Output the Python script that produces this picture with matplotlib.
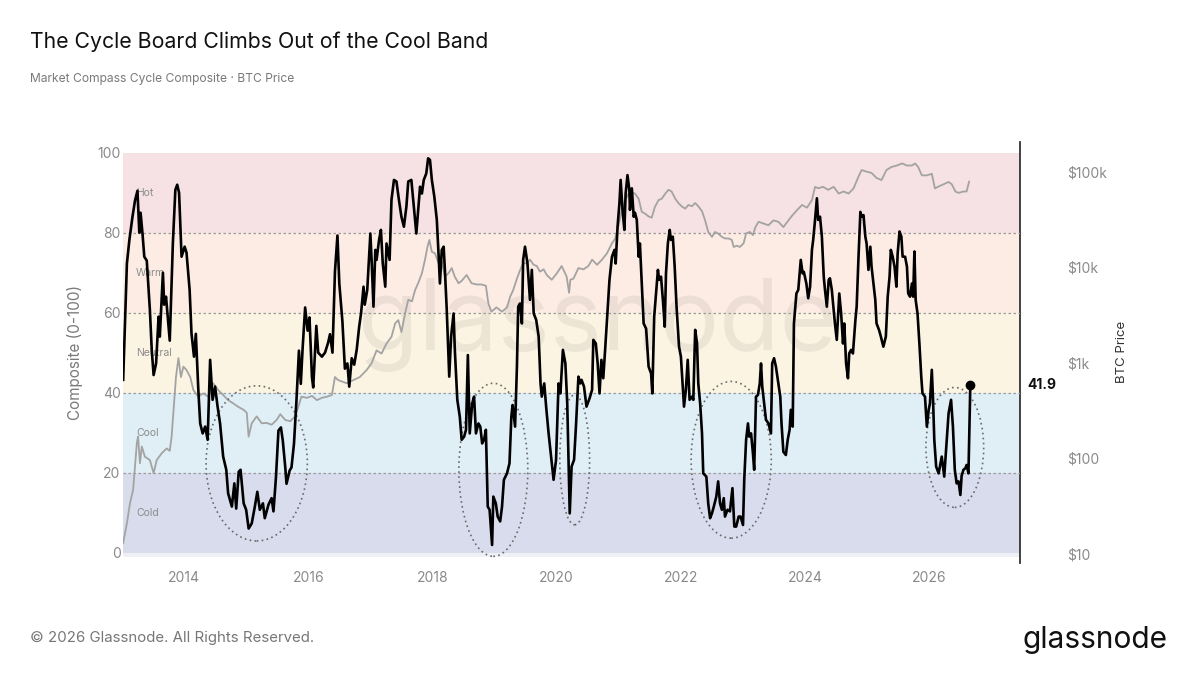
import matplotlib
matplotlib.use("Agg")
import matplotlib.pyplot as plt
from matplotlib.patches import Ellipse, Rectangle
from matplotlib.transforms import blended_transform_factory
import numpy as np

plt.rcParams['font.family'] = ['Inter', 'DejaVu Sans']

# composite score (0-100), x in decimal years
comp_t = [
    2013.02, 2013.08, 2013.12, 2013.17, 2013.21, 2013.25, 2013.28, 2013.30, 2013.33, 2013.36,
    2013.40, 2013.45, 2013.48, 2013.51, 2013.55, 2013.59, 2013.61, 2013.66, 2013.68, 2013.71,
    2013.75, 2013.77, 2013.82, 2013.86, 2013.89, 2013.92, 2013.96, 2014.01, 2014.04, 2014.09,
    2014.12, 2014.16, 2014.19, 2014.23, 2014.26, 2014.30, 2014.34, 2014.38, 2014.42, 2014.46,
    2014.50, 2014.54, 2014.58, 2014.63, 2014.68, 2014.71, 2014.77, 2014.81, 2014.84, 2014.88,
    2014.91, 2014.96, 2015.00, 2015.04, 2015.09, 2015.14, 2015.18, 2015.22, 2015.27, 2015.30,
    2015.36, 2015.41, 2015.44, 2015.48, 2015.52, 2015.56, 2015.59, 2015.63, 2015.65, 2015.70,
    2015.73, 2015.77, 2015.81, 2015.85, 2015.88, 2015.91, 2015.95, 2015.99, 2016.02, 2016.06,
    2016.08, 2016.13, 2016.16, 2016.22, 2016.27, 2016.32, 2016.35, 2016.39, 2016.43, 2016.47,
    2016.50, 2016.55, 2016.59, 2016.63, 2016.66, 2016.70, 2016.74, 2016.78, 2016.82, 2016.85,
    2016.89, 2016.91, 2016.95, 2017.00, 2017.02, 2017.05, 2017.08, 2017.10, 2017.14, 2017.17,
    2017.20, 2017.24, 2017.26, 2017.31, 2017.34, 2017.38, 2017.42, 2017.46, 2017.50, 2017.54,
    2017.58, 2017.61, 2017.66, 2017.69, 2017.74, 2017.77, 2017.80, 2017.83, 2017.86, 2017.90,
    2017.93, 2017.96, 2017.99, 2018.03, 2018.07, 2018.10, 2018.12, 2018.15, 2018.18, 2018.20,
    2018.23, 2018.27, 2018.30, 2018.34, 2018.36, 2018.40, 2018.44, 2018.47, 2018.51, 2018.54,
    2018.57, 2018.60, 2018.64, 2018.67, 2018.70, 2018.74, 2018.77, 2018.80, 2018.83, 2018.86,
    2018.89, 2018.92, 2018.96, 2018.98, 2019.02, 2019.05, 2019.09, 2019.12, 2019.15, 2019.20,
    2019.24, 2019.27, 2019.29, 2019.33, 2019.36, 2019.38, 2019.41, 2019.44, 2019.46, 2019.49,
    2019.53, 2019.57, 2019.60, 2019.63, 2019.67, 2019.71, 2019.74, 2019.76, 2019.80, 2019.83,
    2019.87, 2019.91, 2019.95, 2019.99, 2020.03, 2020.06, 2020.10, 2020.14, 2020.17, 2020.21,
    2020.24, 2020.28, 2020.31, 2020.35, 2020.38, 2020.40, 2020.44, 2020.48, 2020.53, 2020.57,
    2020.59, 2020.63, 2020.66, 2020.69, 2020.72, 2020.75, 2020.78, 2020.82, 2020.85, 2020.89,
    2020.93, 2020.95, 2020.98, 2021.01, 2021.03, 2021.06, 2021.09, 2021.11, 2021.14, 2021.17,
    2021.18, 2021.21, 2021.24, 2021.26, 2021.29, 2021.32, 2021.34, 2021.37, 2021.40, 2021.44,
    2021.48, 2021.52, 2021.54, 2021.57, 2021.60, 2021.63, 2021.65, 2021.68, 2021.71, 2021.74,
    2021.76, 2021.79, 2021.82, 2021.84, 2021.87, 2021.90, 2021.93, 2021.97, 2022.00, 2022.03,
    2022.05, 2022.08, 2022.11, 2022.14, 2022.18, 2022.20, 2022.23, 2022.26, 2022.28, 2022.31,
    2022.34, 2022.36, 2022.41, 2022.44, 2022.47, 2022.50, 2022.53, 2022.57, 2022.60, 2022.63,
    2022.66, 2022.69, 2022.71, 2022.75, 2022.79, 2022.83, 2022.86, 2022.89, 2022.93, 2022.96,
    2023.00, 2023.02, 2023.05, 2023.08, 2023.10, 2023.13, 2023.16, 2023.18, 2023.21, 2023.24,
    2023.27, 2023.29, 2023.31, 2023.34, 2023.37, 2023.41, 2023.45, 2023.47, 2023.50, 2023.53,
    2023.57, 2023.60, 2023.62, 2023.65, 2023.69, 2023.72, 2023.75, 2023.77, 2023.80, 2023.82,
    2023.86, 2023.89, 2023.93, 2023.96, 2023.98, 2024.02, 2024.05, 2024.08, 2024.11, 2024.13,
    2024.16, 2024.19, 2024.21, 2024.24, 2024.27, 2024.30, 2024.32, 2024.35, 2024.38, 2024.40,
    2024.43, 2024.46, 2024.48, 2024.51, 2024.55, 2024.58, 2024.61, 2024.63, 2024.66, 2024.69,
    2024.71, 2024.74, 2024.77, 2024.81, 2024.83, 2024.86, 2024.89, 2024.91, 2024.94, 2024.97,
    2024.99, 2025.02, 2025.05, 2025.07, 2025.10, 2025.13, 2025.15, 2025.19, 2025.22, 2025.26,
    2025.30, 2025.33, 2025.36, 2025.38, 2025.41, 2025.44, 2025.47, 2025.49, 2025.52, 2025.55,
    2025.57, 2025.61, 2025.64, 2025.66, 2025.69, 2025.72, 2025.74, 2025.76, 2025.78, 2025.81,
    2025.84, 2025.87, 2025.89, 2025.93, 2025.96, 2025.99, 2026.01, 2026.04, 2026.06, 2026.08,
    2026.11, 2026.15, 2026.17, 2026.20, 2026.24, 2026.27, 2026.31, 2026.35, 2026.38, 2026.41,
    2026.44, 2026.47, 2026.50, 2026.52, 2026.55, 2026.58, 2026.60, 2026.63, 2026.66,
]
comp_v = [
    43.2, 72.3, 78.2, 84.0, 88.0, 90.5, 80.0, 85.0, 80.0, 74.0,
    73.0, 60.7, 50.7, 44.4, 47.3, 59.0, 54.0, 70.0, 62.0, 64.0,
    56.5, 53.0, 77.3, 90.7, 92.0, 90.0, 74.0, 76.5, 75.0, 65.7,
    54.8, 49.0, 54.7, 40.7, 32.3, 29.8, 31.5, 28.2, 48.2, 38.2,
    41.5, 36.5, 32.3, 24.0, 20.7, 14.8, 11.5, 17.3, 11.0, 20.2,
    20.7, 12.3, 10.7, 6.0, 7.3, 11.5, 15.2, 10.7, 12.3, 8.6,
    12.0, 13.6, 10.3, 18.8, 30.5, 31.3, 28.0, 21.3, 17.2, 20.5,
    21.3, 27.2, 38.0, 50.5, 42.2, 51.3, 61.3, 55.5, 58.8, 43.8,
    41.3, 56.7, 50.0, 49.0, 50.0, 52.5, 54.6, 50.0, 70.3, 79.3,
    67.3, 57.8, 46.0, 47.3, 41.5, 48.6, 47.0, 50.7, 56.5, 59.8,
    66.5, 62.0, 65.7, 79.8, 73.2, 61.5, 75.7, 73.2, 78.2, 80.7,
    72.3, 66.5, 77.3, 73.2, 88.2, 93.2, 92.8, 88.2, 84.0, 81.5,
    86.5, 92.8, 93.2, 88.2, 79.8, 85.7, 91.5, 89.8, 93.2, 94.8,
    98.6, 98.2, 93.2, 89.0, 83.2, 74.0, 67.3, 75.7, 76.5, 70.7,
    60.7, 44.0, 54.0, 59.8, 50.7, 38.2, 34.0, 28.2, 29.0, 30.7,
    49.4, 29.8, 37.3, 39.0, 29.8, 32.3, 31.5, 27.3, 28.2, 30.7,
    11.5, 10.7, 1.9, 14.0, 12.3, 9.0, 7.8, 11.5, 18.2, 19.8,
    22.3, 34.0, 36.9, 31.5, 46.5, 61.5, 62.3, 57.3, 73.2, 76.5,
    72.3, 63.2, 70.7, 59.8, 58.2, 54.0, 42.3, 39.0, 42.3, 36.5,
    29.8, 24.0, 18.2, 23.2, 42.3, 39.8, 50.7, 47.3, 37.3, 9.8,
    21.5, 23.2, 31.5, 44.0, 42.3, 43.2, 41.5, 36.5, 38.6, 40.7,
    53.2, 52.3, 47.3, 39.8, 48.2, 43.6, 50.7, 60.7, 68.2, 74.0,
    75.7, 72.3, 81.5, 87.3, 93.2, 85.7, 80.7, 89.8, 94.4, 90.7,
    85.7, 91.1, 84.0, 85.0, 83.2, 74.0, 77.3, 67.3, 57.3, 56.0,
    46.5, 44.8, 39.8, 59.0, 64.8, 70.7, 68.2, 69.0, 63.2, 56.5,
    69.8, 77.3, 80.7, 78.2, 79.0, 71.5, 61.5, 51.5, 49.0, 41.5,
    36.5, 40.7, 48.2, 38.2, 39.0, 38.2, 55.7, 52.3, 42.3, 37.3,
    29.8, 19.8, 19.0, 12.3, 8.6, 9.8, 11.5, 14.0, 17.8, 12.3,
    10.7, 13.6, 9.0, 10.7, 10.3, 16.1, 6.5, 6.5, 9.0, 9.0,
    6.9, 18.2, 28.2, 32.3, 29.0, 29.8, 24.8, 20.7, 39.0, 39.4,
    42.3, 47.3, 41.5, 37.3, 33.2, 32.3, 29.8, 47.3, 48.6, 46.5,
    42.3, 39.0, 32.3, 25.2, 24.4, 28.2, 30.7, 35.7, 31.5, 57.3,
    64.8, 65.7, 73.2, 69.8, 70.2, 67.3, 63.6, 66.5, 75.7, 78.2,
    83.2, 88.6, 83.2, 84.0, 79.0, 69.0, 65.7, 61.5, 68.2, 68.6,
    65.7, 60.7, 57.3, 53.2, 64.8, 59.8, 52.3, 57.3, 47.3, 43.6,
    49.8, 50.7, 49.8, 58.2, 61.5, 74.0, 85.2, 84.0, 84.4, 79.0,
    77.3, 70.7, 76.5, 71.5, 67.3, 63.2, 57.3, 55.7, 54.0, 51.5,
    54.0, 64.0, 69.0, 75.7, 74.0, 71.5, 66.5, 74.8, 80.3, 79.0,
    74.0, 74.0, 71.5, 64.8, 64.0, 67.3, 64.0, 75.3, 63.2, 59.8,
    52.3, 44.0, 39.8, 39.0, 31.5, 35.7, 37.3, 45.7, 38.2, 28.2,
    21.5, 19.8, 21.5, 24.0, 19.0, 25.7, 34.8, 38.2, 31.5, 20.7,
    17.3, 17.8, 14.4, 19.2, 20.7, 21.1, 21.9, 19.8, 41.9,
]

# BTC price (USD, log axis)
price_t = [
    2013.02, 2013.08, 2013.13, 2013.18, 2013.24, 2013.26, 2013.29, 2013.32, 2013.37, 2013.45,
    2013.51, 2013.56, 2013.64, 2013.72, 2013.77, 2013.80, 2013.84, 2013.87, 2013.91, 2013.95,
    2013.99, 2014.04, 2014.10, 2014.15, 2014.23, 2014.31, 2014.39, 2014.47, 2014.55, 2014.63,
    2014.71, 2014.79, 2014.87, 2014.96, 2015.01, 2015.04, 2015.09, 2015.17, 2015.25, 2015.33,
    2015.41, 2015.49, 2015.55, 2015.63, 2015.71, 2015.79, 2015.84, 2015.89, 2015.98, 2016.06,
    2016.14, 2016.22, 2016.30, 2016.38, 2016.43, 2016.48, 2016.62, 2016.73, 2016.83, 2016.94,
    2017.02, 2017.10, 2017.18, 2017.26, 2017.34, 2017.40, 2017.45, 2017.50, 2017.56, 2017.61,
    2017.67, 2017.72, 2017.77, 2017.83, 2017.88, 2017.92, 2017.95, 2017.99, 2018.04, 2018.10,
    2018.15, 2018.20, 2018.26, 2018.31, 2018.36, 2018.42, 2018.47, 2018.55, 2018.63, 2018.71,
    2018.79, 2018.86, 2018.90, 2018.95, 2019.03, 2019.12, 2019.20, 2019.25, 2019.30, 2019.36,
    2019.41, 2019.46, 2019.52, 2019.57, 2019.63, 2019.68, 2019.73, 2019.79, 2019.84, 2019.92,
    2020.00, 2020.08, 2020.16, 2020.20, 2020.22, 2020.27, 2020.35, 2020.43, 2020.51, 2020.57,
    2020.65, 2020.73, 2020.81, 2020.89, 2020.94, 2020.99, 2021.05, 2021.10, 2021.16, 2021.21,
    2021.26, 2021.32, 2021.37, 2021.42, 2021.48, 2021.53, 2021.58, 2021.64, 2021.69, 2021.75,
    2021.80, 2021.85, 2021.91, 2021.96, 2022.01, 2022.07, 2022.12, 2022.18, 2022.23, 2022.28,
    2022.34, 2022.39, 2022.44, 2022.50, 2022.55, 2022.60, 2022.66, 2022.71, 2022.77, 2022.82,
    2022.85, 2022.90, 2022.95, 2023.01, 2023.05, 2023.11, 2023.16, 2023.20, 2023.25, 2023.33,
    2023.41, 2023.49, 2023.57, 2023.65, 2023.78, 2023.87, 2023.95, 2024.03, 2024.11, 2024.16,
    2024.21, 2024.29, 2024.37, 2024.46, 2024.54, 2024.62, 2024.70, 2024.78, 2024.86, 2024.91,
    2024.99, 2025.07, 2025.15, 2025.23, 2025.31, 2025.39, 2025.48, 2025.56, 2025.64, 2025.72,
    2025.77, 2025.82, 2025.88, 2025.96, 2026.04, 2026.09, 2026.15, 2026.23, 2026.31, 2026.36,
    2026.42, 2026.47, 2026.55, 2026.60, 2026.64,
]
price_v = [
    13, 21, 34, 47, 144, 169, 89, 133, 104, 96,
    70, 96, 113, 127, 120, 169, 377, 710, 1120, 710,
    912, 840, 710, 519, 442, 480, 442, 611, 519, 460,
    407, 377, 347, 322, 300, 169, 233, 275, 233, 235,
    225, 252, 290, 252, 245, 275, 347, 442, 430, 450,
    407, 430, 442, 460, 710, 660, 611, 660, 710, 840,
    990, 1350, 1250, 1590, 1870, 2590, 2800, 2100, 3300, 4560,
    4400, 5770, 6800, 8650, 12000, 16400, 19300, 14500, 14000, 11000,
    11500, 7950, 8700, 9800, 7950, 6800, 7200, 8300, 6800, 6600,
    6600, 6400, 4170, 3430, 3800, 3430, 3800, 4900, 5770, 7600,
    9300, 11000, 11000, 12000, 10600, 10300, 9000, 9500, 8300, 7400,
    8600, 10300, 8000, 5400, 7400, 7600, 9800, 9500, 10300, 12000,
    10600, 12000, 14000, 17800, 19800, 26300, 39600, 50400, 59000, 61000,
    59000, 52000, 38000, 36500, 34000, 33000, 42600, 50400, 52000, 59000,
    64600, 62000, 52000, 47000, 43500, 41000, 44800, 43500, 47000, 43500,
    38500, 30900, 23400, 20800, 23400, 22500, 20800, 20000, 20000, 19300,
    16300, 16800, 16300, 17800, 22600, 23400, 21700, 26300, 29900, 28700,
    27500, 30900, 29900, 26300, 34000, 39600, 44800, 42000, 50400, 69400,
    67000, 69400, 64600, 69400, 59000, 62000, 59000, 66800, 89000, 104000,
    100000, 97000, 86000, 81700, 104000, 112000, 116000, 122000, 116000, 116000,
    122000, 112000, 91500, 91500, 95000, 66800, 70000, 74000, 78000, 74000,
    62000, 60000, 62000, 62000, 78600,
]

band_edges = [0, 20, 40, 60, 80, 100]
band_names = ["Cold", "Cool", "Neutral", "Warm", "Hot"]
band_colors = ["#d8dcec", "#e0eef6", "#fbf4e3", "#fcece3", "#f6e1e5"]

x_ticks = [2014, 2016, 2018, 2020, 2022, 2024, 2026]
price_ticks = [10, 100, 1000, 10000, 100000]
price_labels = ["$10", "$100", "$1k", "$10k", "$100k"]

# dashed circles around the cold/cool troughs: (centre year, centre value, width yrs, height)
troughs = [
    (2015.17, 22.3, 1.63, 38.8),
    (2018.98, 20.7, 1.11, 43.3),
    (2020.29, 23.2, 0.48, 32.5),
    (2022.81, 23.2, 1.29, 39.2),
    (2026.41, 26.3, 0.93, 30.0),
]

fig = plt.figure(figsize=(12, 6.75), dpi=100)
ax = fig.add_axes([0.1028, 0.166, 0.7472, 0.624])
ax2 = ax.twinx()
ax.set_zorder(2)
ax.patch.set_visible(False)
ax2.set_zorder(1)

# bands drawn on the price axis so the price line sits above them
band_tr = blended_transform_factory(ax2.transAxes, ax.transData)
ax2.add_patch(Rectangle((0, -1.2), 1, 1.2, transform=band_tr, color="#eef0f6", lw=0, zorder=0))
for lo, hi, c in zip(band_edges[:-1], band_edges[1:], band_colors):
    ax2.add_patch(Rectangle((0, lo), 1, hi - lo, transform=band_tr, color=c, lw=0, zorder=0))

ax2.text(0.529, 0.565, "glassnode", transform=ax2.transAxes, fontsize=71,
         color="#000000", alpha=0.06, ha="center", va="center", zorder=0.5)

ax2.plot(price_t, price_v, color="#a3a3a3", lw=1.3, zorder=2)
ax2.set_yscale("log")
ax2.set_ylim(8.05, 205600)
ax2.set_yticks(price_ticks)
ax2.set_yticklabels(price_labels)
ax2.minorticks_off()
ax2.tick_params(axis="y", length=0, pad=47, labelsize=10, labelcolor="#8a8a8a")
ax2.set_ylabel("BTC Price", fontsize=9.5, color="#333333", labelpad=12)

for v in band_edges[1:-1]:
    ax.axhline(v, color="#9c9c9c", lw=0.9, ls=(0, (2, 2)), zorder=1)

for lo, hi, name in zip(band_edges[:-1], band_edges[1:], band_names):
    ax.text(2013.227, (lo + hi) / 2, name, fontsize=7.5, color="#8c8c8c",
            va="center", ha="left", zorder=1)

for cx, cy, w, h in troughs:
    ax.add_patch(Ellipse((cx, cy), w, h, fill=False, ec="#6a6a6a", lw=1.2,
                         ls=(0, (1, 2)), zorder=3))

ax.plot(comp_t, comp_v, color="#000000", lw=1.9, solid_joinstyle="round", zorder=4)
ax.plot(comp_t[-1], comp_v[-1], "o", color="#000000", ms=6, zorder=5)
ax.annotate(f"{comp_v[-1]:.1f}", xy=(1.0, comp_v[-1]),
            xycoords=blended_transform_factory(ax.transAxes, ax.transData),
            xytext=(5, 0), textcoords="offset points", fontsize=10, fontweight="bold",
            color="#111111", va="center", ha="left", annotation_clip=False)

ax.set_xlim(2013.023, 2027.46)
ax.set_ylim(-2.6, 102.75)
ax.set_xticks(x_ticks)
ax.set_xticklabels([str(t) for t in x_ticks])
ax.set_yticks([0, 20, 40, 60, 80, 100])
ax.tick_params(axis="both", length=0, labelsize=10, labelcolor="#8a8a8a")
ax.tick_params(axis="y", pad=2)
ax.tick_params(axis="x", pad=6)
ax.set_ylabel("Composite (0-100)", fontsize=11, color="#7a7a7a", labelpad=10)

# right-hand labels sit closer to the spine than the default pad
ax2.tick_params(axis="y", pad=34)
ax2.yaxis.labelpad = 6

for a in (ax, ax2):
    for s in ("left", "top", "bottom"):
        a.spines[s].set_visible(False)
ax.spines["right"].set_visible(False)
ax2.spines["right"].set_color("#333333")
ax2.spines["right"].set_linewidth(1.3)

fig.text(0.025, 1 - 42 / 675, "The Cycle Board Climbs Out of the Cool Band",
         fontsize=15.3, color="#111111", va="center", ha="left")
fig.text(0.025, 1 - 79 / 675, "Market Compass Cycle Composite · BTC Price",
         fontsize=8.7, color="#7a7a7a", va="center", ha="left")
fig.text(0.025, 1 - 638 / 675, "© 2026 Glassnode. All Rights Reserved.",
         fontsize=10.8, color="#777777", va="center", ha="left")
fig.text(1168 / 1200, 1 - 640 / 675, "glassnode", fontsize=21.5, color="#111111",
         va="center", ha="right")

fig.savefig("out.png", dpi=100)
